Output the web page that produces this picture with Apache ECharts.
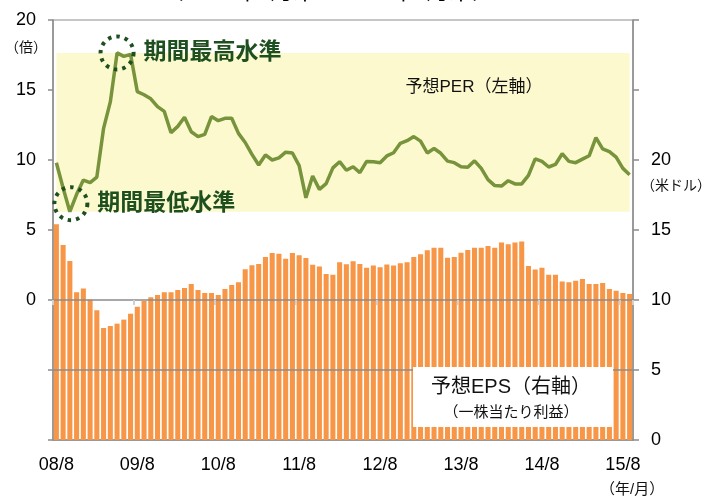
<!DOCTYPE html>
<html>
<head>
<meta charset="utf-8">
<script src="https://cdn.jsdelivr.net/npm/echarts@6/dist/echarts.min.js"></script>
<style>
html, body { margin: 0; padding: 0; background: #fff; }
#chart { width: 708px; height: 496px; }
</style>
</head>
<body>
<div id="chart"></div>
<script>
// 年/月（月末）
var months = [
  '08/8', '08/9', '08/10', '08/11', '08/12',
  '09/1', '09/2', '09/3', '09/4', '09/5', '09/6', '09/7', '09/8', '09/9', '09/10', '09/11', '09/12',
  '10/1', '10/2', '10/3', '10/4', '10/5', '10/6', '10/7', '10/8', '10/9', '10/10', '10/11', '10/12',
  '11/1', '11/2', '11/3', '11/4', '11/5', '11/6', '11/7', '11/8', '11/9', '11/10', '11/11', '11/12',
  '12/1', '12/2', '12/3', '12/4', '12/5', '12/6', '12/7', '12/8', '12/9', '12/10', '12/11', '12/12',
  '13/1', '13/2', '13/3', '13/4', '13/5', '13/6', '13/7', '13/8', '13/9', '13/10', '13/11', '13/12',
  '14/1', '14/2', '14/3', '14/4', '14/5', '14/6', '14/7', '14/8', '14/9', '14/10', '14/11', '14/12',
  '15/1', '15/2', '15/3', '15/4', '15/5', '15/6', '15/7', '15/8', '15/9'
];

// 予想PER（倍・左軸）
var per = [
  9.8, 8.0, 6.31, 7.55, 8.57, 8.38, 8.78, 12.26, 14.15, 17.65,
  17.4, 17.55, 14.88, 14.66, 14.37, 13.81, 13.47, 11.95, 12.4, 13.05,
  12.02, 11.67, 11.83, 13.1, 12.81, 12.98, 12.98, 11.9, 11.25, 10.4,
  9.64, 10.36, 10.0, 10.15, 10.56, 10.5, 9.6, 7.3, 8.86, 7.9,
  8.31, 9.44, 9.88, 9.27, 9.52, 9.1, 9.9, 9.88, 9.8, 10.29,
  10.52, 11.19, 11.38, 11.67, 11.35, 10.5, 10.82, 10.48, 9.92, 9.81,
  9.52, 9.48, 9.94, 9.4, 8.6, 8.17, 8.14, 8.52, 8.29, 8.29,
  8.9, 10.08, 9.9, 9.5, 9.68, 10.45, 9.9, 9.81, 10.06, 10.3,
  11.6, 10.8, 10.6, 10.2, 9.4, 8.95
];

// 予想EPS（米ドル・右軸）
var eps = [
  15.41, 13.93, 12.79, 10.55, 10.83, 10.02, 9.26, 8.0, 8.14, 8.31,
  8.6, 9.02, 9.52, 9.93, 10.19, 10.36, 10.55, 10.55, 10.71, 10.86,
  11.14, 10.71, 10.5, 10.5, 10.36, 10.79, 11.07, 11.26, 12.19, 12.48,
  12.57, 13.07, 13.36, 13.31, 12.95, 13.36, 13.19, 13.0, 12.52, 12.4,
  11.86, 11.81, 12.69, 12.55, 12.77, 12.57, 12.3, 12.46, 12.34, 12.53,
  12.46, 12.63, 12.7, 13.07, 13.26, 13.55, 13.74, 13.74, 13.02, 13.07,
  13.37, 13.57, 13.74, 13.74, 13.86, 13.74, 14.1, 13.98, 14.1, 14.17,
  12.42, 12.17, 12.3, 11.81, 11.81, 11.33, 11.26, 11.38, 11.5, 11.14,
  11.14, 11.21, 10.79, 10.66, 10.5, 10.43
];

var FONT = "'Liberation Sans', 'Noto Sans CJK JP', sans-serif";
var GRAY = '#8c8c8c';
var DARK_GREEN = '#1e4f1e';

var perMin = Math.min.apply(null, per);
var perMax = Math.max.apply(null, per);

// 毎年8月だけラベル
function everyYear (i) { return i % 12 === 0; }

var chart = echarts.init(document.getElementById('chart'));

var option = {
  animation: false,
  textStyle: { fontFamily: FONT },
  grid: { left: 53, right: 75, top: 20, bottom: 56, show: true, borderColor: GRAY, borderWidth: 1 },
  xAxis: [
    {
      type: 'category',
      data: months,
      axisLine: { onZero: false, lineStyle: { color: GRAY, width: 1.5 } },
      axisTick: { show: false },
      axisLabel: { interval: everyYear, margin: 16, fontSize: 18, color: '#000', fontFamily: FONT }
    },
    {
      // 左軸の0に置く目盛り
      type: 'category',
      data: months,
      position: 'bottom',
      z: 10,
      axisLine: { onZero: true, onZeroAxisIndex: 0, lineStyle: { color: GRAY, width: 1.5 } },
      axisTick: { show: true, interval: 11, length: 5, lineStyle: { color: '#cfcfcf', width: 2 } },
      axisLabel: { show: false }
    }
  ],
  yAxis: [
    {
      type: 'value',
      min: -10,
      max: 20,
      interval: 5,
      axisLine: { show: true, lineStyle: { color: GRAY, width: 1.5 } },
      axisTick: { show: true, length: 5, lineStyle: { color: GRAY, width: 1.5 } },
      splitLine: { show: false },
      axisLabel: {
        margin: 17, fontSize: 18, color: '#000', fontFamily: FONT,
        formatter: function (v) { return v >= 0 ? v : ''; }
      }
    },
    {
      type: 'value',
      position: 'right',
      min: 0,
      max: 30,
      interval: 5,
      axisLine: { show: true, lineStyle: { color: GRAY, width: 1.5 } },
      axisTick: { show: true, length: 6, lineStyle: { color: GRAY, width: 1.5 } },
      splitLine: { show: false },
      axisLabel: {
        margin: 18, fontSize: 18, color: '#000', fontFamily: FONT,
        formatter: function (v) { return v <= 20 ? v : ''; }
      }
    }
  ],
  series: [
    {
      name: '予想EPS',
      type: 'bar',
      xAxisIndex: 0,
      yAxisIndex: 1,
      data: eps,
      barCategoryGap: '25%',
      itemStyle: { color: '#F79646' },
      silent: true
    },
    {
      name: '予想PER',
      type: 'line',
      xAxisIndex: 0,
      yAxisIndex: 0,
      data: per,
      showSymbol: false,
      lineStyle: { color: '#77933C', width: 3.5 },
      silent: true,
      markArea: {
        silent: true,
        itemStyle: { color: '#FDF9CE' },
        data: [[
          { xAxis: months[0], yAxis: perMin },
          { xAxis: months[months.length - 1], yAxis: perMax }
        ]]
      },
      markLine: {
        silent: true,
        symbol: ['none', 'none'],
        label: { show: false },
        lineStyle: { color: GRAY, width: 1.5, type: 'solid' },
        data: [{ yAxis: -5 }]
      },
      markPoint: {
        silent: true,
        symbol: 'circle',
        symbolSize: 33,
        itemStyle: { color: 'rgba(0,0,0,0)', borderColor: DARK_GREEN, borderWidth: 4, borderType: [3.5, 5] },
        label: {
          show: true, position: 'right', distance: 8,
          fontSize: 23, fontWeight: 'bold', color: DARK_GREEN, fontFamily: FONT
        },
        data: [
          { type: 'max', label: { formatter: '期間最高水準' } },
          { type: 'min', symbolOffset: [1, -8], label: { formatter: '期間最低水準' } }
        ]
      }
    }
  ],
  graphic: [
    {
      type: 'text', x: 328, y: -7, z: 100,
      style: { text: '（2008年8月末～2015年9月末）', fontSize: 23, fontFamily: FONT, fill: '#000', textAlign: 'center', textVerticalAlign: 'middle' }
    },
    {
      type: 'text', x: 5, y: 48, z: 100,
      style: { text: '（倍）', fontSize: 14, fontFamily: FONT, fill: '#111', textVerticalAlign: 'middle' }
    },
    {
      type: 'text', x: 641, y: 186, z: 100,
      style: { text: '（米ドル）', fontSize: 14, fontFamily: FONT, fill: '#111', textVerticalAlign: 'middle' }
    },
    {
      type: 'text', x: 600, y: 490, z: 100,
      style: { text: '（年/月）', fontSize: 15, fontFamily: FONT, fill: '#111', textVerticalAlign: 'middle' }
    },
    {
      type: 'text', x: 474, y: 87, z: 100,
      style: { text: '予想PER（左軸）', fontSize: 17, fontFamily: FONT, fill: '#111', textAlign: 'center', textVerticalAlign: 'middle' }
    },
    {
      type: 'group', x: 413, y: 367, z: 100,
      children: [
        { type: 'rect', z: 100, shape: { x: 0, y: 0, width: 200, height: 60 }, style: { fill: '#fff' } },
        {
          type: 'text', x: 98, y: 20, z: 101,
          style: { text: '予想EPS（右軸）', fontSize: 20, fontFamily: FONT, fill: '#111', textAlign: 'center', textVerticalAlign: 'middle' }
        },
        {
          type: 'text', x: 98, y: 46, z: 101,
          style: { text: '（一株当たり利益）', fontSize: 15, fontFamily: FONT, fill: '#111', textAlign: 'center', textVerticalAlign: 'middle' }
        }
      ]
    }
  ]
};

chart.setOption(option);
window.addEventListener('resize', function () { chart.resize(); });
</script>
</body>
</html>
